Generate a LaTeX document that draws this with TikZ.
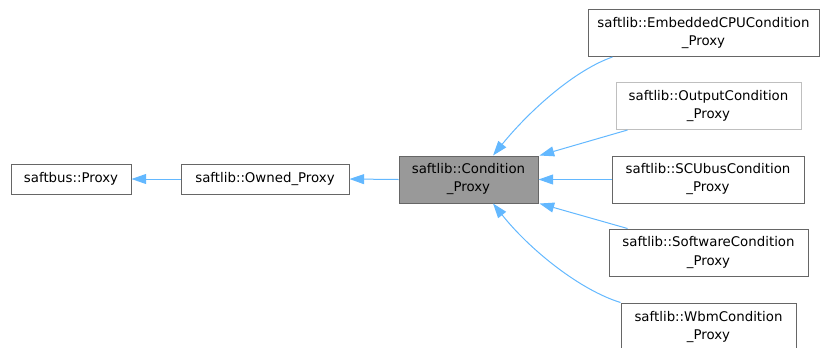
\documentclass[tikz,border=0pt]{standalone}
\usepackage{fontspec}
\setmainfont{DejaVu Sans}
\usetikzlibrary{arrows.meta}
\definecolor{edgeblue}{HTML}{63B8FF}
\definecolor{boxline}{HTML}{666666}
\definecolor{paleline}{HTML}{BFBFBF}
\definecolor{curfill}{HTML}{999999}
\begin{document}
\begin{tikzpicture}[x=0.75pt,y=-0.75pt,
  cls/.style={draw=boxline, line width=0.75pt, rectangle, inner sep=0pt,
    align=center, font=\fontsize{10pt}{13.5pt}\selectfont, text=black},
  one/.style={cls, minimum height=22.5pt},
  two/.style={cls, minimum height=35.25pt},
  inh/.style={draw=edgeblue, line width=0.75pt,
    -{Triangle[length=11pt,width=7.5pt]}}]
\useasboundingbox (0,0) rectangle (820,347);
\clip (0,0) rectangle (820,347);

% classes
\node[one, minimum width=90pt] (bus) at (71,179) {saftbus::Proxy};
\node[one, minimum width=126pt] (owned) at (265,179) {saftlib::Owned\_Proxy};
\node[two, minimum width=104.25pt, fill=curfill] (cond) at (468.5,179.5) {saftlib::Condition\\\_Proxy};
\node[two, minimum width=173.25pt] (emb) at (703.5,33) {saftlib::EmbeddedCPUCondition\\\_Proxy};
\node[two, minimum width=138.75pt, draw=paleline] (out) at (708.5,106) {saftlib::OutputCondition\\\_Proxy};
\node[two, minimum width=144pt] (scu) at (708,179.5) {saftlib::SCUbusCondition\\\_Proxy};
\node[two, minimum width=149.25pt] (soft) at (708.5,252.5) {saftlib::SoftwareCondition\\\_Proxy};
\node[two, minimum width=131.25pt] (wbm) at (708.5,326.5) {saftlib::WbmCondition\\\_Proxy};

% inheritance arrows, pointing at the base class
\draw[inh] (owned.west) -- (bus.east);
\draw[inh] (cond.west) -- (owned.east);
\draw[inh] ([xshift=18.75pt]emb.south west) .. controls (575,70) and (530,110) .. ([xshift=18.4pt]cond.north);
\draw[inh] ([xshift=9pt]out.south west) -- ([xshift=0.75pt]cond.north east);
\draw[inh] (scu.west) -- (cond.east);
\draw[inh] ([xshift=14.25pt]soft.north west) -- ([xshift=0.75pt]cond.south east);
\draw[inh] (wbm.north west) .. controls (580,290) and (530,250) .. ([xshift=18.4pt]cond.south);
\end{tikzpicture}
\end{document}
